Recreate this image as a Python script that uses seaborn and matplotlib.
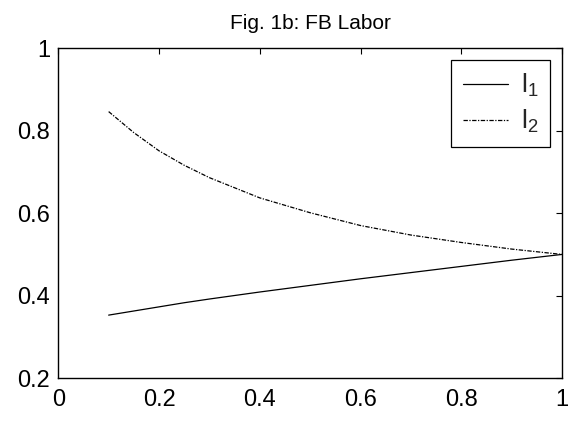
import matplotlib
matplotlib.use("Agg")
import matplotlib.pyplot as plt
import seaborn as sns
import pandas as pd

# data
x_vals = [0.10, 0.15, 0.20, 0.25, 0.30, 0.40, 0.50, 0.60, 0.70, 0.80, 0.90, 1.00]
l1_vals = [0.353, 0.363, 0.373, 0.383, 0.392, 0.409, 0.425, 0.441, 0.456, 0.471, 0.486, 0.500]
l2_vals = [0.846, 0.795, 0.751, 0.716, 0.686, 0.637, 0.601, 0.570, 0.547, 0.529, 0.513, 0.500]
series_labels = ["l$_1$", "l$_2$"]
title_text = "Fig. 1b: FB Labor"
x_ticks = [0, 0.2, 0.4, 0.6, 0.8, 1]
x_ticklabels = ["0", "0.2", "0.4", "0.6", "0.8", "1"]
y_ticks = [0.2, 0.4, 0.6, 0.8, 1]
y_ticklabels = ["0.2", "0.4", "0.6", "0.8", "1"]

sns.set_theme(style="white")
plt.rcParams["font.family"] = ["Liberation Sans", "DejaVu Sans"]
plt.rcParams["mathtext.fontset"] = "custom"
plt.rcParams["mathtext.rm"] = "Liberation Sans"
plt.rcParams["mathtext.it"] = "Liberation Sans"
plt.rcParams["mathtext.default"] = "regular"

df = pd.DataFrame({"x": x_vals, "l1": l1_vals, "l2": l2_vals})

fig = plt.figure(figsize=(5.77, 4.22), dpi=100)
ax = fig.add_axes([0.101, 0.1036, 0.873, 0.7826])

sns.lineplot(data=df, x="x", y="l1", ax=ax, color="black", linewidth=0.9,
             label=series_labels[0])
sns.lineplot(data=df, x="x", y="l2", ax=ax, color="black", linewidth=0.9,
             linestyle=(0, (3.5, 1.2, 1.0, 1.2)), label=series_labels[1])

ax.set_xlim(0, 1)
ax.set_ylim(0.2, 1)
ax.set_xticks(x_ticks)
ax.set_xticklabels(x_ticklabels)
ax.set_yticks(y_ticks)
ax.set_yticklabels(y_ticklabels)
ax.set_xlabel("")
ax.set_ylabel("")
ax.tick_params(direction="in", length=4, width=0.8, colors="black",
               labelsize=17, top=True, right=True)
ax.tick_params(axis="x", pad=8)
ax.tick_params(axis="y", pad=6)
for s in ax.spines.values():
    s.set_visible(True)
    s.set_color("black")
    s.set_linewidth(1.0)

ax.set_title(title_text, fontsize=15, color="black", pad=14)

leg = ax.legend(loc="upper right", frameon=True, fancybox=False,
                edgecolor="black", framealpha=1, fontsize=19,
                handlelength=1.7, handletextpad=0.5, labelspacing=0.35,
                borderpad=0.45, borderaxespad=0.45)
leg.get_frame().set_linewidth(0.9)

fig.savefig("out.png", dpi=100)
